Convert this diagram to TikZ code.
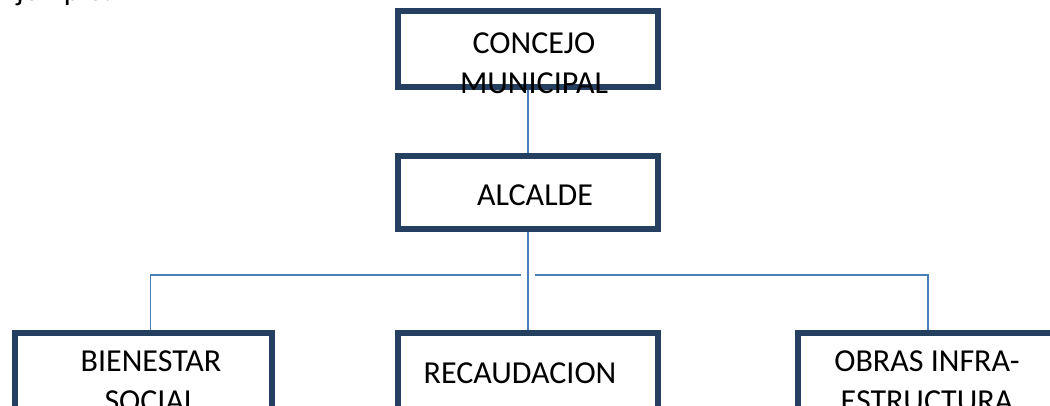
\documentclass[tikz,border=0pt]{standalone}
\usepackage{fontspec}
\setmainfont{Carlito}
\definecolor{boxblue}{HTML}{243F60}
\definecolor{linkblue}{HTML}{4A7EBB}
\begin{document}
\begin{tikzpicture}[x=1pt,y=-1pt,
        main/.style = {draw=boxblue, line width=5.5pt, fill=white, inner sep=0pt,
                       minimum width=260pt, minimum height=74pt},
        txt/.style = {font=\fontsize{32}{40}\selectfont, align=center, inner sep=0pt},
        link/.style = {draw=linkblue, line width=1.8pt}]
            \useasboundingbox (0,0) rectangle (1050,406);
            \node[anchor=base west, font=\fontsize{31}{36}\selectfont, inner sep=0pt] (ej) at (1,1) {Ejemplo:};
            % boxes
            \node[main, minimum height=76pt] (cm) at (528,49) {};
            \node[main, minimum height=73pt] (alc) at (528,192.5) {};
            \node[main, minimum width=257pt, minimum height=80pt] (bs) at (143.5,373) {};
            \node[main, minimum height=80pt] (rec) at (528,373) {};
            \node[main, minimum height=80pt] (obr) at (928,373) {};
            % links
            \coordinate (hub) at (528,275);
            \draw[link] (cm) -- (alc);
            \draw[link] (alc) -- (rec);
            \draw[link] ([xshift=7pt]bs.north) |- ([xshift=-7pt]hub);
            \draw[link] (obr.north) |- ([xshift=7pt]hub);
            % texts
            \node[txt] (tcm) at (534,63) {CONCEJO\\MUNICIPAL};
            \node[txt] (talc) at (535,195) {ALCALDE};
            \node[txt] (tbs) at (151,381) {BIENESTAR\\SOCIAL};
            \node[txt] (trec) at (520,373) {RECAUDACION};
            \node[txt] (tobr) at (927,381) {OBRAS INFRA-\\ESTRUCTURA};
        \end{tikzpicture}
\end{document}
